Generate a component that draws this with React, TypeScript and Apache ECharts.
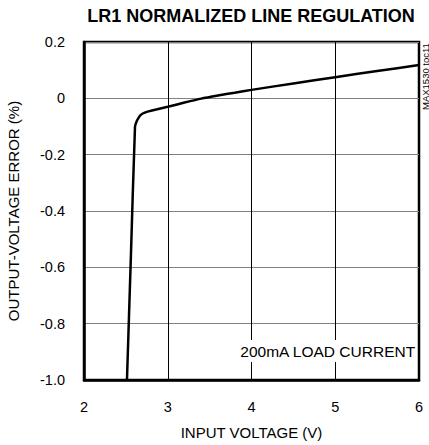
import React, { useEffect, useRef } from "react";
import * as echarts from "echarts";

const inputVoltage = [2.513, 2.56, 2.609, 2.628, 2.648, 2.675, 2.708, 2.75, 2.8, 3.0, 3.2, 3.4, 3.6, 3.8, 4.0, 4.5, 5.0, 5.5, 6.0];
const outputError = [-1.0, -0.56, -0.1, -0.082, -0.071, -0.06, -0.053, -0.048, -0.044, -0.03, -0.015, -0.001, 0.01, 0.02, 0.03, 0.053, 0.075, 0.097, 0.118];
const xTicks = [2, 3, 4, 5, 6];
const yTicks = [-1.0, -0.8, -0.6, -0.4, -0.2, 0, 0.2];

const FONT = "'Liberation Sans', Arial, sans-serif";

export default function App() {
  const ref = useRef<HTMLDivElement>(null);
  useEffect(() => {
    if (!ref.current) return;
    const chart = echarts.init(ref.current, undefined, { renderer: "svg" });
    const data = inputVoltage.map((v, i) => [v, outputError[i]]);
    chart.setOption({
      animation: false,
      backgroundColor: "#fff",
      textStyle: { fontFamily: FONT },
      grid: {
        left: 84,
        top: 42,
        width: 335,
        height: 338,
        containLabel: false,
        outerBoundsMode: "none",
        show: true,
        borderColor: "#000",
        borderWidth: 2.5,
        backgroundColor: "transparent",
      },
      xAxis: {
        type: "value",
        min: xTicks[0],
        max: xTicks[xTicks.length - 1],
        interval: 1,
        name: "INPUT VOLTAGE (V)",
        nameLocation: "middle",
        nameGap: 45,
        nameTextStyle: { fontFamily: FONT, fontSize: 15, color: "#000" },
        axisLine: { show: true, onZero: false, lineStyle: { color: "#000", width: 2.5 } },
        axisTick: { show: false },
        axisLabel: { fontFamily: FONT, fontSize: 14.5, color: "#000", margin: 19 },
        splitLine: { show: true, lineStyle: { color: "#000", width: 1 } },
      },
      yAxis: {
        type: "value",
        min: yTicks[0],
        max: yTicks[yTicks.length - 1],
        interval: 0.2,
        name: "OUTPUT-VOLTAGE ERROR (%)",
        nameLocation: "middle",
        nameGap: 63,
        nameTextStyle: { fontFamily: FONT, fontSize: 15, color: "#000" },
        axisLine: { show: true, onZero: false, lineStyle: { color: "#000", width: 2.5 } },
        axisTick: { show: false },
        axisLabel: {
          fontFamily: FONT,
          fontSize: 14.5,
          color: "#000",
          margin: 19,
          formatter: (v: number) => (Math.abs(v) < 1e-9 ? "0" : v.toFixed(1)),
        },
        splitLine: { show: true, lineStyle: { color: "#808080", width: 1 } },
      },
      graphic: [
        {
          type: "text",
          x: 251,
          y: 7,
          style: {
            text: "LR1 NORMALIZED LINE REGULATION",
            fontFamily: FONT,
            fontSize: 18,
            fontWeight: "bold",
            fill: "#000",
            align: "center",
            verticalAlign: "top",
          },
        },
        {
          type: "text",
          right: 12,
          top: 340,
          z: 10,
          style: {
            text: "200mA LOAD CURRENT",
            fontFamily: FONT,
            fontSize: 15.5,
            fill: "#000",
            backgroundColor: "#fff",
            padding: [3, 1, 3, 2],
          },
        },
        {
          type: "text",
          x: 420,
          y: 110,
          rotation: Math.PI / 2,
          style: {
            text: "MAX1530 toc11",
            fontFamily: FONT,
            fontSize: 9.5,
            fill: "#000",
          },
        },
      ],
      series: [
        {
          type: "line",
          data,
          showSymbol: false,
          smooth: 0.2,
          lineStyle: { color: "#000", width: 2.5 },
          z: 5,
        },
      ],
    });
    return () => chart.dispose();
  }, []);
  return <div ref={ref} style={{ position: "fixed", left: 0, top: 0, width: 429, height: 445 }} />;
}
